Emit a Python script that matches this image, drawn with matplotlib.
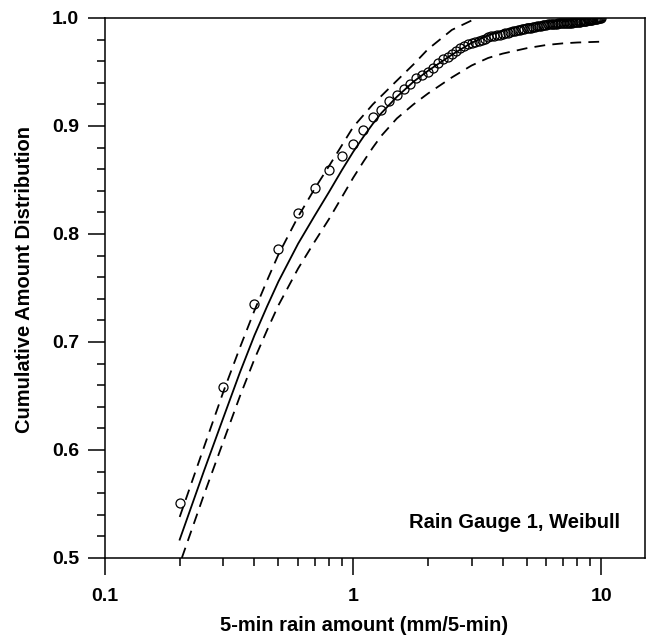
import matplotlib
matplotlib.use('Agg')
import matplotlib.pyplot as plt
from matplotlib.ticker import FixedLocator, NullFormatter

plt.rcParams['font.family'] = ['Liberation Sans', 'DejaVu Sans']
plt.rcParams['font.weight'] = 'bold'

# observed empirical distribution (5-min amounts, 0.1 mm steps)
obs_x = [0.2, 0.3, 0.4, 0.5, 0.6, 0.7, 0.8, 0.9, 1.0,
         1.1, 1.2, 1.3, 1.4, 1.5, 1.6, 1.7, 1.8, 1.9, 2.0,
         2.1, 2.2, 2.3, 2.4, 2.5, 2.6, 2.7, 2.8, 2.9, 3.0,
         3.1, 3.2, 3.3, 3.4, 3.5, 3.6, 3.7, 3.8, 3.9, 4.0,
         4.1, 4.2, 4.3, 4.4, 4.5, 4.6, 4.7, 4.8, 4.9, 5.0,
         5.1, 5.2, 5.3, 5.4, 5.5, 5.6, 5.7, 5.8, 5.9, 6.0,
         6.1, 6.2, 6.3, 6.4, 6.5, 6.6, 6.7, 6.8, 6.9, 7.0,
         7.1, 7.2, 7.3, 7.4, 7.5, 7.6, 7.7, 7.8, 7.9, 8.0,
         8.1, 8.2, 8.3, 8.4, 8.5, 8.6, 8.7, 8.8, 8.9, 9.0,
         9.1, 9.2, 9.3, 9.4, 9.5, 9.6, 9.7, 9.8, 9.9, 10.0]
obs_y = [0.551, 0.658, 0.735, 0.786, 0.819, 0.843, 0.859, 0.872, 0.883,
         0.896, 0.908, 0.915, 0.923, 0.929, 0.934, 0.939, 0.944, 0.947, 0.950,
         0.954, 0.958, 0.962, 0.964, 0.967, 0.969, 0.972, 0.974, 0.976, 0.977,
         0.978, 0.979, 0.980, 0.981, 0.982, 0.983, 0.9835, 0.984, 0.9845, 0.985,
         0.986, 0.9865, 0.987, 0.9875, 0.988, 0.9885, 0.989, 0.9895, 0.990, 0.9903,
         0.9907, 0.991, 0.9914, 0.9918, 0.9922, 0.9926, 0.993, 0.9933, 0.9936, 0.9939,
         0.9942, 0.9944, 0.9945, 0.9946, 0.9947, 0.9948, 0.9949, 0.995, 0.9951, 0.9952,
         0.9953, 0.9954, 0.9955, 0.9956, 0.9957, 0.9958, 0.996, 0.9961, 0.9962, 0.9964,
         0.9965, 0.9967, 0.9968, 0.997, 0.9971, 0.9973, 0.9975, 0.9977, 0.9979, 0.9981,
         0.9983, 0.9986, 0.9988, 0.999, 0.9992, 0.9994, 0.9996, 0.9997, 0.9998, 1.0]

# fitted Weibull curve
fit_x = [0.2, 0.25, 0.3, 0.35, 0.4, 0.45, 0.5, 0.6, 0.7, 0.8, 0.9, 1.0, 1.1, 1.2, 1.3,
         1.5, 1.75, 2.0, 2.5, 3.0, 3.5, 4.0, 5.0, 6.0, 7.0, 8.0, 10.0]
fit_y = [0.517, 0.580, 0.630, 0.672, 0.706, 0.733, 0.756, 0.791, 0.817, 0.839, 0.859, 0.876, 0.890, 0.902, 0.912,
         0.927, 0.941, 0.951, 0.966, 0.977, 0.984, 0.988, 0.994, 0.9965, 0.998, 0.999, 0.9998]

# upper / lower bounds (dashed)
up_x = [0.2, 0.25, 0.3, 0.35, 0.4, 0.45, 0.5, 0.6, 0.7, 0.8, 0.9, 1.0, 1.2, 1.5, 1.75, 2.0, 2.5, 3.15]
up_y = [0.538, 0.602, 0.654, 0.695, 0.729, 0.757, 0.781, 0.816, 0.842, 0.863, 0.882, 0.899, 0.920, 0.942,
        0.957, 0.971, 0.989, 1.0]

lo_x = [0.204, 0.25, 0.3, 0.35, 0.4, 0.45, 0.5, 0.6, 0.7, 0.8, 0.9, 1.0, 1.1, 1.2, 1.3,
        1.5, 1.75, 2.0, 2.5, 3.0, 3.5, 4.0, 5.0, 6.0, 7.0, 8.0, 9.8]
lo_y = [0.5, 0.558, 0.608, 0.650, 0.684, 0.711, 0.734, 0.768, 0.793, 0.814, 0.834, 0.852, 0.867, 0.880, 0.891,
        0.907, 0.920, 0.930, 0.945, 0.956, 0.963, 0.967, 0.972, 0.975, 0.9765, 0.9773, 0.978]

fig = plt.figure(figsize=(6.48, 6.38), dpi=100)
ax = fig.add_axes([0.162, 0.1254, 0.8334, 0.8464])

ax.plot(fit_x, fit_y, color='black', lw=1.3)
ax.plot(up_x, up_y, color='black', lw=1.3, dashes=(6, 4))
ax.plot(lo_x, lo_y, color='black', lw=1.3, dashes=(6, 4))
ax.plot(obs_x, obs_y, 'o', mfc='none', mec='black', ms=6.5, mew=0.9)

ax.set_xscale('log')
ax.set_xlim(0.1, 15)
ax.set_ylim(0.5, 1.0)
ax.xaxis.set_major_locator(FixedLocator([0.1, 1, 10]))
ax.xaxis.set_major_formatter(plt.FixedFormatter(['0.1', '1', '10']))
ax.xaxis.set_minor_locator(FixedLocator([0.2, 0.3, 0.4, 0.5, 0.6, 0.7, 0.8, 0.9,
                                         2, 3, 4, 5, 6, 7, 8, 9]))
ax.xaxis.set_minor_formatter(NullFormatter())
ax.set_yticks([0.5, 0.6, 0.7, 0.8, 0.9, 1.0])
ax.set_yticklabels(['0.5', '0.6', '0.7', '0.8', '0.9', '1.0'])
ax.set_yticks([0.52, 0.54, 0.56, 0.58, 0.62, 0.64, 0.66, 0.68, 0.72, 0.74, 0.76, 0.78,
               0.82, 0.84, 0.86, 0.88, 0.92, 0.94, 0.96, 0.98], minor=True)

for s in ax.spines.values():
    s.set_linewidth(1.1)
ax.tick_params(which='major', direction='out', length=12.5, width=1.1, labelsize=14, pad=6)
ax.tick_params(which='minor', direction='out', length=6, width=1.1)
ax.tick_params(axis='x', which='major', pad=9)

ax.set_xlabel('5-min rain amount (mm/5-min)', fontsize=14.5, fontweight='bold')
ax.xaxis.set_label_coords(0.48, -0.107)
ax.set_ylabel('Cumulative Amount Distribution', fontsize=14.5, fontweight='bold')
ax.yaxis.set_label_coords(-0.131, 0.515)
ax.text(0.954, 0.065, 'Rain Gauge 1, Weibull', transform=ax.transAxes, ha='right', va='center',
        fontsize=14.5, fontweight='bold')

plt.savefig('out.png', dpi=100)
